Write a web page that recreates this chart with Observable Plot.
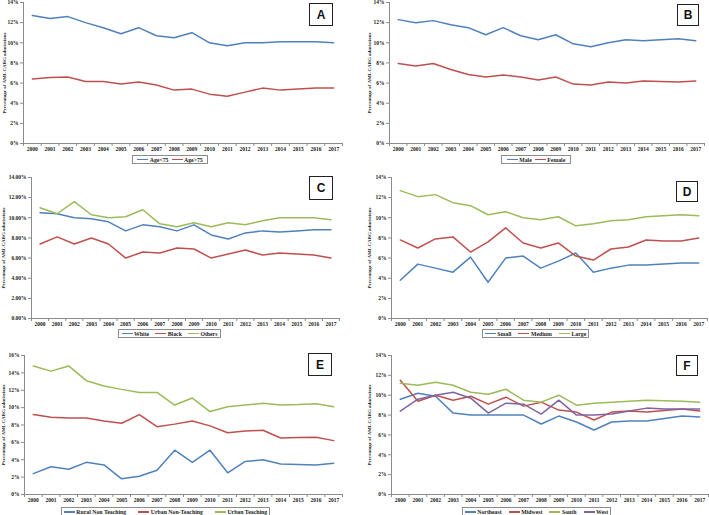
<!DOCTYPE html>
<html><head><meta charset="utf-8">
<script src="https://cdn.jsdelivr.net/npm/d3@7"></script>
<script src="https://cdn.jsdelivr.net/npm/@observablehq/plot@0.6"></script>
<style>
body{margin:0;background:#fff;}
#root{position:relative;width:709px;height:515px;overflow:hidden;background:#fff;}
.panel{position:absolute;overflow:visible;}
.legend{position:absolute;border:1px solid #8c8c8c;display:flex;align-items:center;font:bold 5.8px "Liberation Serif","Times New Roman",serif;color:#222;box-sizing:border-box;background:#fff;white-space:nowrap;}
.legend .item{display:flex;align-items:center;gap:1.5px;}
.legend .sw{display:inline-block;width:11px;height:1.5px;}
.letter{position:absolute;border:1.5px solid #222;box-sizing:border-box;display:flex;align-items:center;justify-content:center;font:bold 12px "Liberation Sans",Arial,sans-serif;color:#111;background:#fff;}
</style></head>
<body><div id="root"></div>
<script>
const years = [2000,2001,2002,2003,2004,2005,2006,2007,2008,2009,2010,2011,2012,2013,2014,2015,2016,2017];
// Panel A
const ageUnder75 = [12.7,12.4,12.6,12.0,11.5,10.9,11.5,10.7,10.5,11.0,10.0,9.7,10.0,10.0,10.1,10.1,10.1,10.0];
const ageOver75 = [6.4,6.55,6.6,6.15,6.15,5.9,6.1,5.8,5.3,5.4,4.9,4.7,5.1,5.5,5.3,5.4,5.5,5.5];
// Panel B
const male = [12.3,12.0,12.2,11.8,11.5,10.8,11.5,10.7,10.3,10.8,9.9,9.6,10.0,10.3,10.2,10.3,10.4,10.2];
const female = [7.95,7.7,7.95,7.35,6.85,6.6,6.8,6.6,6.3,6.6,5.9,5.8,6.1,6.0,6.2,6.15,6.1,6.2];
// Panel C
const white = [10.5,10.4,10.0,9.9,9.6,8.7,9.3,9.1,8.7,9.3,8.3,7.9,8.5,8.7,8.6,8.7,8.8,8.8];
const black = [7.4,8.1,7.4,8.0,7.4,6.0,6.6,6.5,7.0,6.9,6.0,6.4,6.8,6.3,6.5,6.4,6.3,6.0];
const others = [11.0,10.4,11.6,10.3,10.0,10.1,10.8,9.4,9.1,9.5,9.1,9.5,9.3,9.7,10.0,10.0,10.0,9.8];
// Panel D
const small = [3.8,5.4,5.0,4.6,6.1,3.6,6.0,6.2,5.0,5.7,6.5,4.6,5.0,5.3,5.3,5.4,5.5,5.5];
const medium = [7.8,7.0,7.9,8.1,6.6,7.6,9.0,7.5,7.0,7.5,6.2,5.8,6.9,7.1,7.8,7.7,7.7,8.0];
const large = [12.7,12.1,12.3,11.5,11.2,10.3,10.6,10.0,9.8,10.1,9.2,9.4,9.7,9.8,10.1,10.2,10.3,10.2];
// Panel E
const ruralNonTeaching = [2.4,3.2,2.9,3.7,3.4,1.8,2.1,2.8,5.1,3.7,5.1,2.5,3.8,4.0,3.5,3.45,3.4,3.6];
const urbanNonTeaching = [9.2,8.9,8.8,8.8,8.45,8.2,9.2,7.8,8.1,8.45,7.9,7.1,7.3,7.4,6.5,6.55,6.6,6.2];
const urbanTeaching = [14.8,14.2,14.8,13.1,12.5,12.1,11.75,11.75,10.3,11.1,9.55,10.1,10.3,10.5,10.3,10.35,10.45,10.1];
// Panel F
const northeast = [9.6,10.2,9.9,8.2,8.0,8.0,8.0,8.0,7.1,7.9,7.3,6.5,7.3,7.4,7.4,7.65,7.9,7.8];
const midwest = [11.5,9.4,10.0,9.5,9.9,9.1,9.8,8.9,9.3,8.5,8.3,7.5,8.3,8.4,8.3,8.45,8.6,8.4];
const south = [11.2,11.0,11.3,11.0,10.3,10.1,10.6,9.5,9.3,10.0,9.0,9.2,9.3,9.4,9.5,9.45,9.4,9.3];
const west = [8.4,9.6,10.0,10.3,9.7,8.2,9.2,9.1,8.1,9.5,8.0,8.0,8.1,8.4,8.7,8.6,8.6,8.6];

const yLabel = "Percentage of AMI-CABG admissions";

const BLUE = "#4F81BD", RED = "#C0504D", GREEN = "#9BBB59", PURPLE = "#8064A2";
const pct0 = d => d + "%";
const pct2 = d => d.toFixed(2) + "%";

const panels = [
  {letter:"A", names:["Age<75","Age>75"], series:[ageUnder75, ageOver75], colors:[BLUE,RED], yMax:14, fmt:pct0,
   svg:{x:0,y:0,w:354,h:152}, plot:{l:23,r:342,t:2,b:143}, legend:{x:132,y:155,w:76,h:9,gap:3}, box:{x:309,y:3,w:24,h:23}, labelX:4},
  {letter:"B", names:["Male","Female"], series:[male, female], colors:[BLUE,RED], yMax:14, fmt:pct0,
   svg:{x:354,y:0,w:355,h:152}, plot:{l:389,r:704,t:2,b:143}, legend:{x:501,y:155,w:70,h:9,gap:3}, box:{x:677,y:4,w:22,h:22}, labelX:369},
  {letter:"C", names:["White","Black","Others"], series:[white, black, others], colors:[BLUE,RED,GREEN], yMax:14, fmt:pct2,
   svg:{x:0,y:170,w:354,h:156}, plot:{l:31,r:339,t:177,b:318}, legend:{x:118,y:329,w:103,h:9,gap:6}, box:{x:309,y:176,w:24,h:24}, labelX:3},
  {letter:"D", names:["Small","Medium","Large"], series:[small, medium, large], colors:[BLUE,RED,GREEN], yMax:14, fmt:pct0,
   svg:{x:354,y:170,w:355,h:156}, plot:{l:391,r:707,t:177,b:318}, legend:{x:482,y:329,w:107,h:9,gap:7}, box:{x:676,y:181,w:22,h:21}, labelX:369},
  {letter:"E", names:["Rural Non Teaching","Urban Non-Teaching","Urban Teaching"], series:[ruralNonTeaching, urbanNonTeaching, urbanTeaching], colors:[BLUE,RED,GREEN], yMax:16, fmt:pct0,
   svg:{x:0,y:345,w:354,h:160}, plot:{l:24,r:342,t:355,b:494}, legend:{x:61,y:507,w:209,h:10,gap:12}, box:{x:308,y:353,w:24,h:23}, labelX:3},
  {letter:"F", names:["Northeast","Midwest","South","West"], series:[northeast, midwest, south, west], colors:[BLUE,RED,GREEN,PURPLE], yMax:14, fmt:pct0,
   svg:{x:354,y:345,w:355,h:160}, plot:{l:391,r:708,t:355,b:494}, legend:{x:462,y:507,w:149,h:10,gap:7}, box:{x:676,y:355,w:22,h:21}, labelX:369}
];

const root = document.getElementById("root");
const boundaries = years.map(y => y - 0.5).concat([years[years.length - 1] + 0.5]);

for (const p of panels) {
  const rows = [];
  p.names.forEach((name, i) => {
    years.forEach((yr, j) => rows.push({year: yr, value: p.series[i][j], series: name}));
  });
  const mL = p.plot.l - p.svg.x;
  const mR = p.svg.x + p.svg.w - p.plot.r;
  const mT = p.plot.t - p.svg.y;
  const mB = p.svg.y + p.svg.h - p.plot.b;
  const yTicks = d3.range(0, p.yMax + 0.001, 2);
  const chart = Plot.plot({
    width: p.svg.w, height: p.svg.h,
    marginLeft: mL, marginRight: mR, marginTop: mT, marginBottom: mB,
    x: {domain: [years[0] - 0.5, years[years.length - 1] + 0.5]},
    y: {domain: [0, p.yMax]},
    color: {domain: p.names, range: p.colors},
    style: {fontFamily: '"Liberation Serif","Times New Roman",serif', fontSize: "5.5px", fontWeight: "bold", background: "transparent", overflow: "visible", color: "#222"},
    marks: [
      Plot.axisY({ticks: yTicks, tickSize: 3, tickFormat: () => "", stroke: "#8c8c8c", label: null}),
      Plot.axisY({ticks: yTicks, tickSize: 0, tickPadding: 5, tickFormat: p.fmt, label: null}),
      Plot.axisX({ticks: boundaries, tickSize: 3, tickFormat: () => "", stroke: "#8c8c8c", label: null}),
      Plot.axisX({ticks: years, tickSize: 0, tickPadding: 4, tickFormat: d => String(d), label: null}),
      Plot.ruleX([years[0] - 0.5], {stroke: "#8c8c8c"}),
      Plot.ruleY([0], {stroke: "#8c8c8c"}),
      Plot.lineY(rows, {x: "year", y: "value", stroke: "series", strokeWidth: 1.5}),
      Plot.text([yLabel], {frameAnchor: "left", textAnchor: "middle", lineAnchor: "middle", rotate: -90, dx: p.labelX - p.plot.l, text: d => d, fontSize: 5, fontWeight: "bold", fill: "#222"})
    ]
  });
  chart.classList.add("panel");
  chart.style.left = p.svg.x + "px";
  chart.style.top = p.svg.y + "px";
  chart.style.position = "absolute";
  root.appendChild(chart);

  const lg = document.createElement("div");
  lg.className = "legend";
  Object.assign(lg.style, {left: p.legend.x + "px", top: p.legend.y + "px", width: p.legend.w + "px", height: p.legend.h + "px", gap: p.legend.gap + "px", justifyContent: "center"});
  p.names.forEach((name, i) => {
    const it = document.createElement("span");
    it.className = "item";
    const sw = document.createElement("span");
    sw.className = "sw";
    sw.style.background = p.colors[i];
    const tx = document.createElement("span");
    tx.textContent = name;
    it.appendChild(sw); it.appendChild(tx);
    lg.appendChild(it);
  });
  root.appendChild(lg);

  const bx = document.createElement("div");
  bx.className = "letter";
  Object.assign(bx.style, {left: p.box.x + "px", top: p.box.y + "px", width: p.box.w + "px", height: p.box.h + "px"});
  bx.textContent = p.letter;
  root.appendChild(bx);
}
</script>
</body></html>
